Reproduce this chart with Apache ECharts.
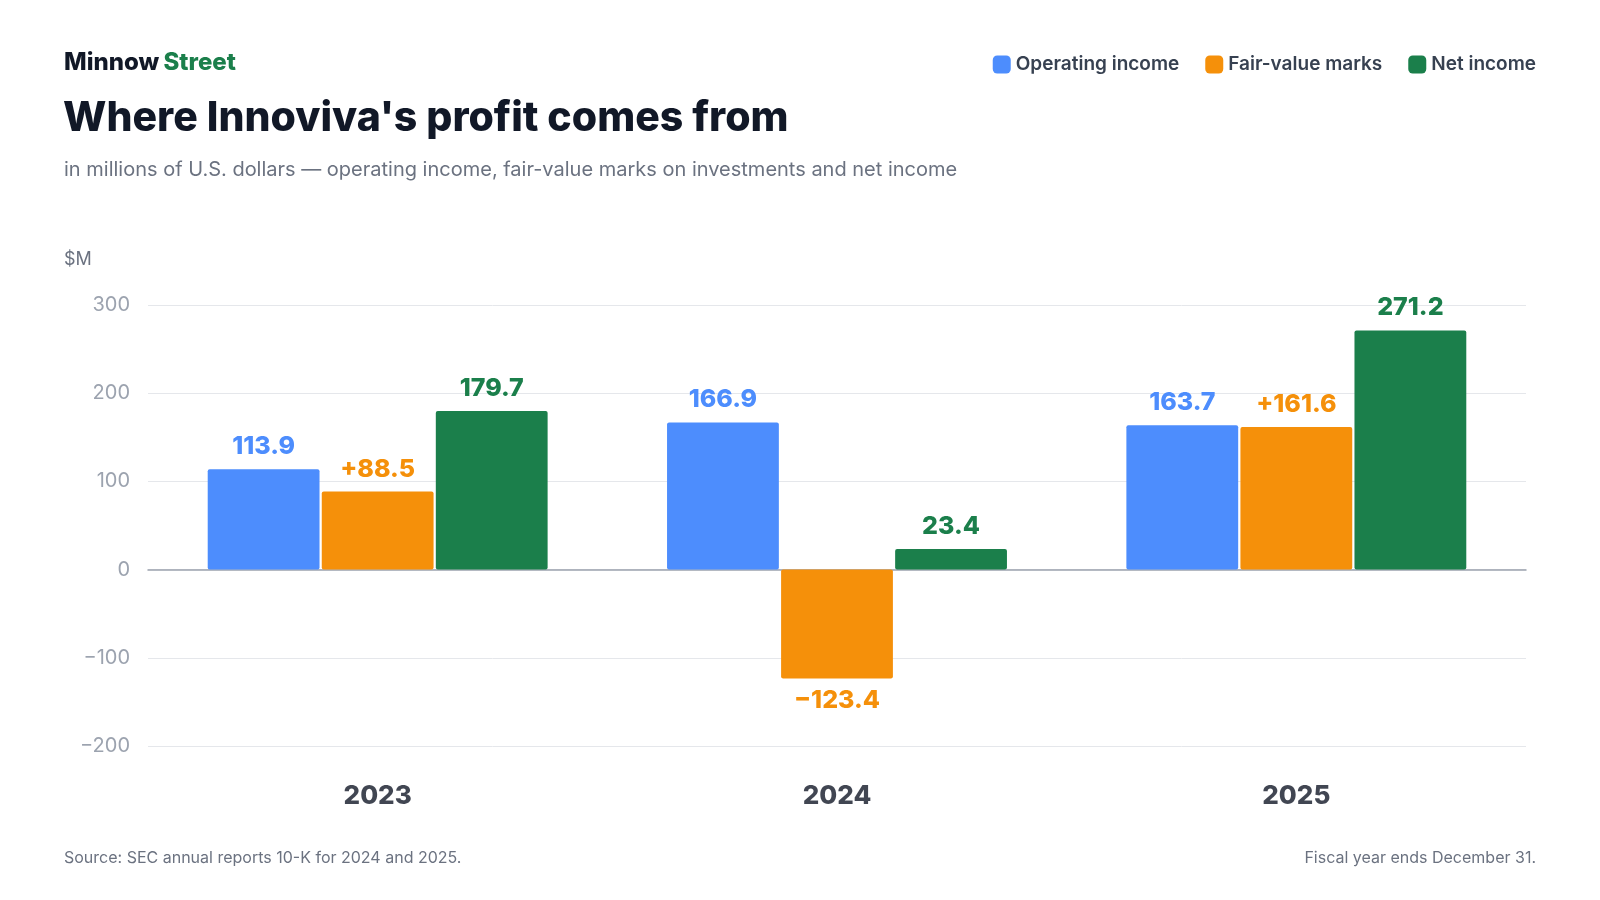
<!DOCTYPE html>
<html>
<head>
<meta charset="utf-8">
<script src="https://cdn.jsdelivr.net/npm/echarts@6/dist/echarts.min.js"></script>
<style>
  html, body { margin: 0; padding: 0; background: #fff; }
  #chart { width: 1600px; height: 900px; }
</style>
</head>
<body>
<div id="chart"></div>
<script>
const years = ["2023", "2024", "2025"];
const operatingIncome = [113.9, 166.9, 163.7];
const fairValueMarks = [88.5, -123.4, 161.6];
const netIncome = [179.7, 23.4, 271.2];

const FONT = "Inter, 'Noto Sans', sans-serif";
const BLUE = "#4d8dfd", ORANGE = "#f5900a", GREEN = "#1b7f4b";

function fmt(v, signed) {
  const s = Math.abs(v).toFixed(1);
  if (v < 0) return "\u2212" + s;
  return (signed ? "+" : "") + s;
}

function barSeries(name, data, color, signed) {
  return {
    name: name,
    type: "bar",
    data: data.map(v => ({
      value: v,
      label: { position: v < 0 ? "bottom" : "top" }
    })),
    itemStyle: { color: color, borderRadius: 2 },
    barGap: "2%",
    barCategoryGap: "26%",
    label: {
      show: true,
      distance: 10,
      color: color,
      fontFamily: FONT,
      fontWeight: 800,
      fontSize: 25,
      formatter: p => fmt(p.value, signed)
    }
  };
}

const chart = echarts.init(document.getElementById("chart"));
chart.setOption({
  animation: false,
  textStyle: { fontFamily: FONT },
  title: [
    {
      text: "{a|Minnow} {b|Street}",
      left: 59, top: 46,
      textStyle: {
        rich: {
          a: { fontSize: 24, fontWeight: 800, color: "#111827", fontFamily: FONT },
          b: { fontSize: 24, fontWeight: 800, color: GREEN, fontFamily: FONT }
        }
      }
    },
    {
      text: "Where Innoviva's profit comes from",
      left: 58, top: 93,
      textStyle: { fontSize: 41, fontWeight: 800, color: "#111827", fontFamily: FONT, letterSpacing: -1 }
    },
    {
      text: "in millions of U.S. dollars \u2014 operating income, fair-value marks on investments and net income",
      left: 59, top: 155,
      textStyle: { fontSize: 20, fontWeight: "normal", color: "#6b7280", fontFamily: FONT }
    },
    {
      text: "$M", left: 59, top: 246,
      textStyle: { fontSize: 18, fontWeight: "normal", color: "#6b7280", fontFamily: FONT }
    },
    {
      text: "Source: SEC annual reports 10-K for 2024 and 2025.", left: 59, top: 845,
      textStyle: { fontSize: 16, fontWeight: "normal", color: "#6b7280", fontFamily: FONT }
    },
    {
      text: "Fiscal year ends December 31.", right: 59, top: 845,
      textStyle: { fontSize: 16, fontWeight: "normal", color: "#6b7280", fontFamily: FONT }
    }
  ],
  legend: {
    right: 59, top: 50,
    icon: "roundRect",
    itemWidth: 18, itemHeight: 18, itemGap: 26,
    textStyle: { fontSize: 19, color: "#374151", fontFamily: FONT, fontWeight: 600 }
  },
  grid: { left: 148, right: 74, top: 305, bottom: 154 },
  xAxis: {
    type: "category",
    data: years,
    axisLine: { onZero: true, lineStyle: { color: "#9ca3af", width: 1.5 } },
    axisTick: { show: false },
    axisLabel: { show: false }
  },
  yAxis: {
    type: "value",
    min: -200, max: 300, interval: 100,
    axisLabel: {
      fontSize: 20, color: "#9ca3af", fontFamily: FONT, margin: 18,
      formatter: v => v < 0 ? "\u2212" + Math.abs(v) : String(v)
    },
    splitLine: { lineStyle: { color: "#e5e7eb" } }
  },
  series: [
    barSeries("Operating income", operatingIncome, BLUE, false),
    barSeries("Fair-value marks", fairValueMarks, ORANGE, true),
    barSeries("Net income", netIncome, GREEN, false),
    {
      // year labels under the plot, positioned by the category axis
      type: "scatter",
      data: years.map(() => -200),
      symbolSize: 0,
      silent: true,
      label: {
        show: true, position: "bottom", distance: 37,
        fontSize: 26, fontWeight: 800, color: "#111827", fontFamily: FONT,
        formatter: p => years[p.dataIndex]
      }
    }
  ]
});
</script>
</body>
</html>
